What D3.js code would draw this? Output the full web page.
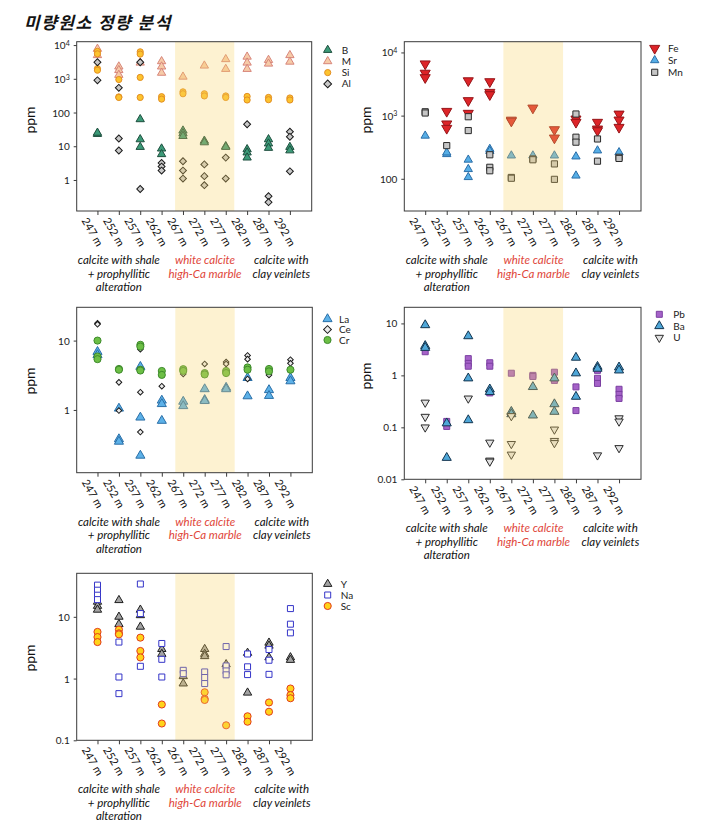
<!DOCTYPE html>
<html><head><meta charset="utf-8">
<script src="https://cdn.jsdelivr.net/npm/d3@7"></script>
<style>
html,body{margin:0;padding:0;background:#fff;}
svg{display:block;}
</style></head>
<body>
<svg id="chart" width="709" height="825"></svg>
<script>
// ---------- data ----------
const depths = ["247 m","252 m","257 m","262 m","267 m","272 m","277 m","282 m","287 m","292 m"];
const groupLeft = ["calcite with shale","+ prophyllitic","alteration"];
const groupMid = ["white calcite","high-Ca marble"];
const groupRight = ["calcite with","clay veinlets"];

// panel 1
const B  = [[23,25],[],[63,16,9.5],[8.5,5.8],[29,24,20],[14.5,13],[10,9.5],[8.1,6.5,4.6],[16,12,8.9],[9.5,7.5]];
const M  = [[7700,5000],[2300,1800,1300],[3000],[3300,2300,1500],[1150],[2450],[3800,1950],[4500,3000,1950],[3600,2800],[5000,3200]];
const Si = [[6500,5500,2000,1800],[950,290,280],[6300,5400,1100,280],[295,250],[410,360],[360,310],[310,280],[300,235],[280,240],[270,235]];
const Al = [[3100,900],[540,17,7.5],[3100,0.54],[3.2,2.5,1.9],[3.6,1.9,1.1],[2.9,1.3,0.7],[4.6,1.1],[45],[0.33,0.22],[27,19,1.8]];
// panel 2
const Fe = [[6600,4700,4000],[1170,740,630],[3570,1730,1090],[3450,2340,2150],[850,820],[1320],[600,443],[885,785],[785,615,578],[1060,853,654]];
const Sr = [[480],[245,260],[200,142,106],[296,275],[233],[233],[233],[225,112],[280],[262]];
const Mn = [[1150,1100],[335],[960,580],[240,152,134],[105,102],[206,200],[172,98],[1060,455,380],[427,190],[219,210]];
// panel 3
const La = [[6.9,6.2],[1.05,0.38,0.35],[4.2,0.78,0.22],[1.37,1.22,0.70],[1.32,1.14],[2.0,1.4,1.35],[2.1,2.0],[2.9,1.58],[1.94,1.6],[2.9,2.6]];
const Ce = [[17.8,17.2],[2.5,0.98],[7.5,1.8,0.48],[2.2],[3.3],[4.6],[4.9,4.6],[6.1,5.4,2.8],[3.2],[5.3,4.7]];
const Cr = [[10,5.9,5.4],[3.9,3.8],[8.7,8.2,3.8,3.7],[3.65,3.2],[3.87,3.65],[3.4,3.25],[3.65,3.4],[4.1,3.8],[3.9,3.6],[3.8]];
// panel 4
const Pb = [[2.85],[0.13,0.104],[2.1,1.7,1.5],[1.75,1.5,0.46],[1.1],[1.0,0.95],[1.15,0.8],[0.6,0.21],[1.25,0.88,0.7],[0.54,0.43,0.36]];
const Ba = [[9.3,3.7,3.4],[0.12,0.026],[5.7,0.88,0.138],[0.54,0.48],[0.2,0.18],[0.6,0.17],[0.88,0.28,0.2],[2.2,1.1,0.39],[1.47,1.35],[1.43,1.25]];
const U  = [[0.30,0.16,0.1],[],[0.36],[0.051,0.023,0.022],[0.165,0.048,0.030],[],[0.091,0.055,0.05],[],[0.029],[0.15,0.13,0.040]];
// panel 5
const Y  = [[17.5,15,13],[18.6,10,7.6],[13,10.6,6.9],[3.0,2.5],[1.09,0.83],[3.0,2.5,2.3],[1.7],[2.6,0.59],[3.8,3.4,2.2],[2.2,2.0]];
const Na = [[32.6,27,22.4,19],[3.9,1.06,0.57],[34,11.3,1.58],[3.7,2.05,1.06],[1.36,1.2],[1.28,1.04,0.83],[3.3,1.6,1.33,1.15],[2.5,1.55,1.16],[2.95,1.98,1.17],[13.6,7.6,5.5]];
const Sc = [[5.7,4.7,3.9],[6.2,5.4,5.2],[4.6,2.8,2.2],[0.38,0.187],[],[0.6,0.47,0.45],[0.175],[0.245,0.2],[0.41,0.29],[0.69,0.54,0.48]];

// ---------- styles ----------
const FONT = "Lato, 'Open Sans', sans-serif";
const sym = {
  triUp:   {type: d3.symbolTriangle, rot: 0},
  triDown: {type: d3.symbolTriangle, rot: 180},
  circle:  {type: d3.symbolCircle, rot: 0},
  square:  {type: d3.symbolSquare, rot: 0},
  diamond: {type: d3.symbolSquare, rot: 45}
};

const panels = [
  {frame:[76.7,41.7,311.7,211], yMin:Math.pow(10,-0.92), yMax:Math.pow(10,4.1),
   ticks:[1,10,100,1000,10000], ppm:[30,120], legend:[327.7,341.7,50,11.3],
   series:[
    {name:"B", data:B, shape:"triUp", size:30, fill:"#3c9a78", stroke:"#1e4f3e"},
    {name:"M", data:M, shape:"triUp", size:30, fill:"#f6cba8", stroke:"#d8857a"},
    {name:"Si", data:Si, shape:"circle", size:30, fill:"#fcc32e", stroke:"#e38e22"},
    {name:"Al", data:Al, shape:"diamond", size:24, fill:"#c9c9c9", stroke:"#1a1a1a"}
   ]},
  {frame:[404.3,41.7,641,211], yMin:Math.pow(10,1.49), yMax:Math.pow(10,4.17),
   ticks:[100,1000,10000], ppm:[366,120], legend:[654.7,668,48.3,12],
   series:[
    {name:"Fe", data:Fe, shape:"triDown", size:44, fill:"#dd2428", stroke:"#961418"},
    {name:"Sr", data:Sr, shape:"triUp", size:30, fill:"#56aee6", stroke:"#2b6ea8"},
    {name:"Mn", data:Mn, shape:"square", size:38, fill:"#c6c6c6", stroke:"#2a2a2a"}
   ]},
  {frame:[76.7,307.3,312.3,472.7], yMin:Math.pow(10,-0.905), yMax:Math.pow(10,1.48),
   ticks:[1,10], ppm:[30,381], legend:[327.5,339,319,10.5],
   series:[
    {name:"La", data:La, shape:"triUp", size:36, fill:"#5cb1e8", stroke:"#2a6fa8"},
    {name:"Ce", data:Ce, shape:"diamond", size:16, fill:"#ececec", stroke:"#1a1a1a"},
    {name:"Cr", data:Cr, shape:"circle", size:40, fill:"#6cbf45", stroke:"#3e8a2c"}
   ]},
  {frame:[404.3,307.3,641,479.3], yMin:0.01, yMax:Math.pow(10,1.31),
   ticks:[0.01,0.1,1,10], ppm:[366,376], legend:[659.3,673.3,314.3,11.7],
   series:[
    {name:"Pb", data:Pb, shape:"square", size:36, fill:"#a562c8", stroke:"#7a3fa0"},
    {name:"Ba", data:Ba, shape:"triUp", size:36, fill:"#4fa7d8", stroke:"#12344f"},
    {name:"U", data:U, shape:"triDown", size:30, fill:"#e2e2e2", stroke:"#2a2a2a"}
   ]},
  {frame:[76.7,573.3,312.3,740.3], yMin:0.1, yMax:Math.pow(10,1.705),
   ticks:[0.1,1,10], ppm:[30,658], legend:[327.7,340.7,584,11],
   series:[
    {name:"Y", data:Y, shape:"triUp", size:30, fill:"#a3a3a3", stroke:"#1e1e1e"},
    {name:"Na", data:Na, shape:"square", size:36, fill:"#ffffff", stroke:"#3535c8"},
    {name:"Sc", data:Sc, shape:"circle", size:40, fill:"#ffd319", stroke:"#e23a1c"}
   ]}
];

const svg = d3.select("#chart");

// title
svg.append("text").attr("x",24).attr("y",29)
  .attr("font-family","'Noto Sans CJK KR', sans-serif")
  .attr("font-size",17).attr("font-weight","bold").attr("font-style","italic")
  .attr("letter-spacing","1.5").attr("fill","#141414")
  .text("미량원소 정량 분석");

const supMap = {1000:"3", 10000:"4"};

panels.forEach(p => {
  const [x0,y0,x1,y1] = p.frame;
  const g = svg.append("g");
  const x = d3.scaleLinear().domain([-0.97,10.02]).range([x0,x1]);
  const y = d3.scaleLog().domain([p.yMin,p.yMax]).range([y1,y0]);

  // markers
  p.series.forEach(s => {
    const gen = d3.symbol().type(sym[s.shape].type).size(s.size);
    const pts = [];
    s.data.forEach((vals,i) => vals.forEach(v => pts.push([i,v])));
    g.append("g").selectAll("path").data(pts).join("path")
      .attr("d", gen)
      .attr("transform", d => `translate(${x(d[0])},${y(d[1])}) rotate(${sym[s.shape].rot})`)
      .attr("fill", s.fill).attr("stroke", s.stroke).attr("stroke-width", 1);
  });

  // shading overlay
  g.append("rect")
    .attr("x", x(3.63)).attr("y", y0)
    .attr("width", x(6.4) - x(3.63)).attr("height", y1 - y0)
    .attr("fill", "#f7d466").attr("fill-opacity", 0.3);

  // frame
  g.append("rect").attr("x",x0).attr("y",y0).attr("width",x1-x0).attr("height",y1-y0)
    .attr("fill","none").attr("stroke","#3a3a3a").attr("stroke-width",1);

  // y axis
  const yAxis = d3.axisLeft(y).tickValues(p.ticks).tickSize(3).tickPadding(4)
    .tickFormat(() => "");
  const ya = g.append("g").attr("transform",`translate(${x0},0)`).call(yAxis);
  ya.select(".domain").remove();
  ya.selectAll(".tick line").attr("stroke","#3a3a3a");
  ya.selectAll(".tick").each(function(d){
    const t = d3.select(this).append("text")
      .attr("x",-7).attr("dy","0.35em").attr("text-anchor","end")
      .attr("font-family",FONT).attr("font-size",10).attr("fill","#222");
    if (supMap[d]) {
      t.append("tspan").text("10");
      t.append("tspan").attr("dy","-0.45em").attr("font-size",7).text(supMap[d]);
    } else {
      t.text(d3.format("~g")(d));
    }
  });

  // x axis ticks
  const xAxis = d3.axisBottom(x).tickValues(d3.range(depths.length)).tickSize(4).tickFormat(() => "");
  const xa = g.append("g").attr("transform",`translate(0,${y1})`).call(xAxis);
  xa.select(".domain").remove();
  xa.selectAll(".tick line").attr("stroke","#3a3a3a");

  // rotated depth labels
  g.append("g").selectAll("text").data(depths).join("text")
    .attr("transform",(d,i)=>`translate(${x(i)-5},${y1+21}) rotate(60)`)
    .attr("text-anchor","middle").attr("dy","0.35em")
    .attr("font-family",FONT).attr("font-size",11).attr("fill","#111")
    .text(d=>d);

  // group labels
  const gy = y1 + 53;
  const grp = (lines, xi, color) => {
    lines.forEach((l,k) => g.append("text")
      .attr("x", x(xi)).attr("y", gy + k*13.5)
      .attr("text-anchor","middle").attr("font-family",FONT)
      .attr("font-style","italic").attr("font-size",11.5).attr("fill",color)
      .text(l));
  };
  grp(groupLeft, 1.0, "#111");
  grp(groupMid, 5.03, "#e0463a");
  grp(groupRight, 8.6, "#111");

  // ppm label
  g.append("text").attr("transform",`translate(${p.ppm[0]},${p.ppm[1]}) rotate(-90)`)
    .attr("text-anchor","middle").attr("dy","0.35em")
    .attr("font-family",FONT).attr("font-size",14).attr("fill","#111").text("ppm");

  // legend
  const [lmx, ltx, ly0, ldy] = p.legend;
  p.series.forEach((s,k) => {
    const gen = d3.symbol().type(sym[s.shape].type).size(Math.max(s.size,30));
    g.append("path").attr("d",gen)
      .attr("transform",`translate(${lmx},${ly0+k*ldy}) rotate(${sym[s.shape].rot})`)
      .attr("fill",s.fill).attr("stroke",s.stroke).attr("stroke-width",1);
    g.append("text").attr("x",ltx).attr("y",ly0+k*ldy).attr("dy","0.35em")
      .attr("font-family",FONT).attr("font-size",10).attr("fill","#222").text(s.name);
  });
});
</script>
</body></html>
